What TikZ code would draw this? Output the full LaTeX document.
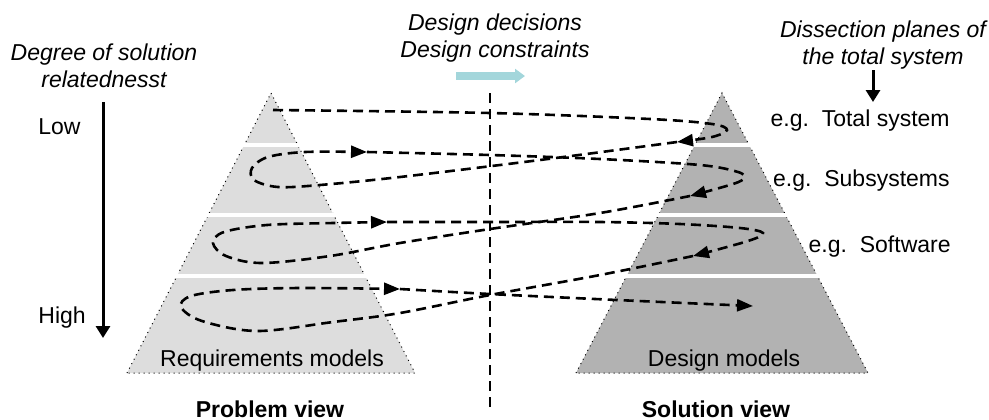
\documentclass[tikz,border=0pt]{standalone}
\usepackage{fontspec}
\setmainfont{Liberation Sans}
\usetikzlibrary{arrows.meta}
\tikzset{>={Triangle[length=8pt,width=6pt]}}
\definecolor{lightpyr}{RGB}{221,221,221}
\definecolor{darkpyr}{RGB}{178,178,178}
\definecolor{flowteal}{RGB}{163,214,219}
\newcommand*{\txt}{\fontsize{11.5}{13.5}\selectfont}

\begin{document}
\begin{tikzpicture}[x=0.5pt,y=-0.5pt,
  lbl/.style={font=\txt,inner sep=0pt},
  note/.style={font=\txt\itshape,inner sep=0pt,align=center},
  flow/.style={->,line width=1.3pt,dash pattern=on 5pt off 3pt},
  rim/.style={line width=0.5pt,dotted},
  plane/.style={draw=white,line width=2pt},
  axis/.style={line width=1.5pt,-{Triangle[length=6pt,width=7pt]}}]
\useasboundingbox (0,0) rectangle (989,419);

% Draw the two pyramids
\fill[lightpyr] (271,93) coordinate (la) -- (415,373) coordinate (lr) -- (127,373) coordinate (ll) -- cycle;
\draw[rim] (ll) -- (la) -- (lr) -- cycle;
\fill[darkpyr] (722,93) coordinate (ra) -- (868,373) coordinate (rr) -- (576,373) coordinate (rl) -- cycle;
\draw[rim] (rl) -- (ra) -- (rr) -- cycle;
\foreach \y in {145,215,276} {
  \draw[plane] ({271-(\y-93)/280*144-3},\y) -- ({271+(\y-93)/280*144+3},\y);
  \draw[plane] ({722-(\y-93)/280*146-3},\y) -- ({722+(\y-93)/280*146+3},\y);
}
\node[lbl,anchor=base] (req) at (272,366) {Requirements models};
\node[lbl,anchor=base] (des) at (724,366) {Design models};
\node[lbl,anchor=base,font=\txt\bfseries] (prob) at (270,417) {Problem view};
\node[lbl,anchor=base,font=\txt\bfseries] (sol) at (716,417) {Solution view};

% Dividing line and design flow
\draw[line width=1pt,dash pattern=on 5pt off 3pt] (490,93) coordinate (dtop) -- (490,410) coordinate (dbot);
\node[note,anchor=base] (dec) at (495,57) {Design decisions\\Design constraints};
\draw[flowteal,line width=4pt,-{Triangle[length=5pt,width=7pt]}] (456,76) coordinate (ts) -- (525,76) coordinate (te);

% Degree axis on the left
\node[note,anchor=base] (deg) at (104,87) {Degree of solution\\relatednesst};
\draw[axis] (103,102) coordinate (as) -- (103,338) coordinate (ae);
\node[lbl,anchor=base west] (low) at (38,134) {Low};
\node[lbl,anchor=base west] (high) at (38,323) {High};

% Dissection planes on the right
\node[note,anchor=base] (dis) at (883,64) {Dissection planes of\\the total system};
\draw[axis] (873,70) coordinate (ds) -- (873,102) coordinate (de);
\node[lbl,anchor=base east] (tot) at (950,126) {e.g.\ \ Total system};
\node[lbl,anchor=base east] (sub) at (950,186) {e.g.\ \ Subsystems};
\node[lbl,anchor=base east] (soft) at (951,252) {e.g.\ \ Software};

% Spiral of refinement steps
\draw[flow] plot[smooth,tension=0.55] coordinates {(273,110) (490,113) (650,119) (712,124) (727,130) (712,137) (677,142)};
\draw[flow] plot[smooth,tension=0.55] coordinates {(677,142) (540,160) (400,177) (320,185) (278,187) (254,180) (252,168) (268,157) (305,152) (367,152)};
\draw[flow] plot[smooth,tension=0.55] coordinates {(367,152) (490,155) (600,159) (700,165) (738,172) (744,178) (733,184) (690,196)};
\draw[flow] plot[smooth,tension=0.55] coordinates {(690,196) (600,213) (490,229) (400,243) (330,256) (262,263) (226,256) (213,243) (224,232) (267,225) (333,223) (387,222)};
\draw[flow] plot[smooth,tension=0.55] coordinates {(387,222) (490,222) (600,222) (680,224) (740,228) (763,233) (748,241) (693,256)};
\draw[flow] plot[smooth,tension=0.55] coordinates {(693,256) (600,275) (490,295) (400,313) (333,322) (257,331) (202,321) (181,307) (191,296) (233,290) (300,288) (400,289)};
\draw[flow] plot[smooth,tension=0.55] coordinates {(400,289) (490,294) (617,300) (753,306)};
\end{tikzpicture}
\end{document}
